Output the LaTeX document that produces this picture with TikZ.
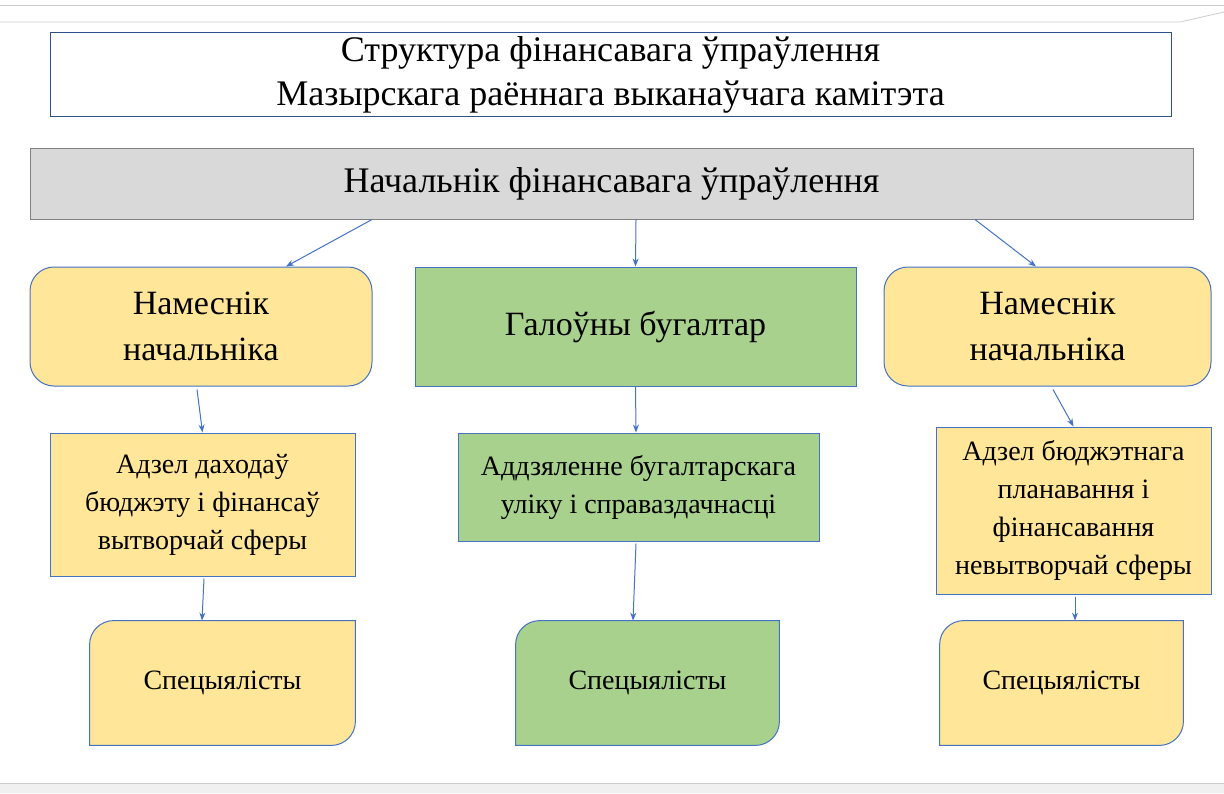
\documentclass[tikz,border=0pt]{standalone}
\usepackage{fontspec}
\setmainfont{Liberation Serif}
\usetikzlibrary{arrows.meta,calc,backgrounds}
\definecolor{boxblue}{HTML}{4472C4}
\definecolor{headgray}{HTML}{D9D9D9}
\definecolor{yellowfill}{HTML}{FFE699}
\definecolor{greenfill}{HTML}{A9D18E}
\tikzset{
  box/.style={draw=boxblue, line width=0.5pt, align=center, inner sep=2pt},
  ybox/.style={box, fill=yellowfill},
  gbox/.style={box, fill=greenfill},
  rbox/.style={ybox, rounded corners=12pt},
  txtl/.style={font=\fontsize{17}{23}\selectfont},
  txts/.style={font=\fontsize{14}{19}\selectfont},
  arr/.style={draw=boxblue, line width=0.5pt, -{Stealth[length=4pt,width=3pt]}},
}
\begin{document}
\begin{tikzpicture}[x=0.5pt,y=-0.5pt]
\useasboundingbox (0,0) rectangle (1224,793);
% page frame
\draw[gray!40] (0,5) -- (1224,5);
\draw[gray!40] (0,22) -- (1180,22) -- (1224,12);
\fill[gray!12] (0,783) rectangle (1224,793);
\draw[gray!40] (0,783) -- (1224,783);
% title and head
\node[box, draw=boxblue!70!black, fill=white, minimum width=560.5pt, minimum height=41.5pt,
  font=\fontsize{18}{22}\selectfont] (title) at (610.5,74.5)
  {Структура фінансавага ўпраўлення\\Мазырскага раённага выканаўчага камітэта};
\node[box, draw=gray, fill=headgray, minimum width=581.5pt, minimum height=35.5pt,
  font=\fontsize{18}{22}\selectfont] (head) at (611.5,183.5) {Начальнік фінансавага ўпраўлення};
% second level
\node[rbox, txtl, minimum width=171pt, minimum height=59.5pt] (dep1) at (201,326.5) {Намеснік\\начальніка};
\node[gbox, txtl, minimum width=220.5pt, minimum height=59.5pt] (chief) at (635.5,326.5) {Галоўны бугалтар};
\node[rbox, txtl, minimum width=163.5pt, minimum height=59.5pt] (dep2) at (1047.5,326.5) {Намеснік\\начальніка};
% departments
\node[ybox, txts, minimum width=152.5pt, minimum height=71.5pt] (otd1) at (202.5,504.5)
  {Адзел даходаў\\бюджэту і фінансаў\\вытворчай сферы};
\node[gbox, txts, minimum width=180.5pt, minimum height=54pt] (otd2) at (638.5,487)
  {Аддзяленне бугалтарскага\\уліку і справаздачнасці};
\node[ybox, txts, minimum width=137.5pt, minimum height=83.5pt] (otd3) at (1073.5,510.5)
  {Адзел бюджэтнага\\планавання і\\фінансавання\\невытворчай сферы};
% specialists
\node[txts, minimum width=132.5pt, minimum height=62pt] (sp1) at (222.5,683) {Спецыялісты};
\node[txts, minimum width=131.5pt, minimum height=62pt] (sp2) at (647.5,683) {Спецыялісты};
\node[txts, minimum width=121.5pt, minimum height=62pt] (sp3) at (1061.5,683) {Спецыялісты};
\begin{scope}[on background layer]
\foreach \n/\c in {sp1/yellowfill, sp2/greenfill, sp3/yellowfill}
  \filldraw[draw=boxblue, line width=0.5pt, fill=\c]
    (\n.north east) -- ([xshift=12pt]\n.north west) arc[start angle=90, end angle=180, radius=12pt]
    -- (\n.south west) -- ([xshift=-12pt]\n.south east) arc[start angle=-90, end angle=0, radius=12pt]
    -- cycle;
\end{scope}
% connectors
\draw[arr] ($(head.south)+(-239.5,0)$) -- ($(dep1.north)+(85,0)$);
\draw[arr] ($(head.south)+(24.5,0)$) -- (chief.north);
\draw[arr] ($(head.south)+(363.5,0)$) -- ($(dep2.north)+(-11.5,0)$);
\draw[arr] ($(dep1.south)+(-4,3)$) -- (otd1.north);
\draw[arr] (chief.south) -- ($(otd2.north)+(-2.5,0)$);
\draw[arr] ($(dep2.south)+(5.5,3)$) -- (otd3.north);
\draw[arr] ($(otd1.south)+(1.5,2)$) -- ($(sp1.north)+(-20.5,0)$);
\draw[arr] ($(otd2.south)+(-2.5,2)$) -- ($(sp2.north)+(-14.5,0)$);
\draw[arr] ($(otd3.south)+(1.5,2)$) -- ($(sp3.north)+(13.5,0)$);
\end{tikzpicture}
\end{document}
